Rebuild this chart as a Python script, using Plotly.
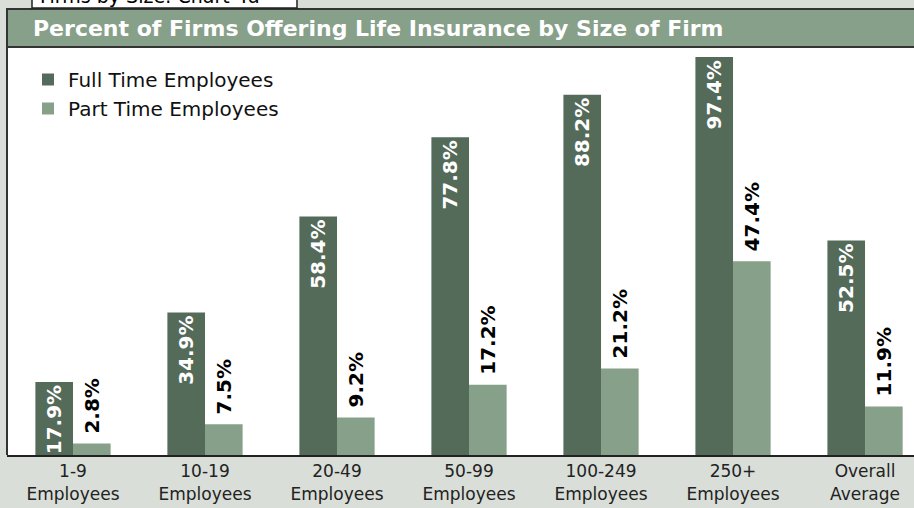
import plotly.graph_objects as go

categories = ["1-9<br>Employees", "10-19<br>Employees", "20-49<br>Employees",
              "50-99<br>Employees", "100-249<br>Employees", "250+<br>Employees",
              "Overall<br>Average"]
full_time = [17.9, 34.9, 58.4, 77.8, 88.2, 97.4, 52.5]
part_time = [2.8, 7.5, 9.2, 17.2, 21.2, 47.4, 11.9]

DARK = "#556B5A"
LIGHT = "#87A08A"
BG = "#D9DED8"
FONT = "DejaVu Sans"

fig = go.Figure()
fig.add_trace(go.Bar(
    x=categories, y=full_time, name="Full Time Employees",
    marker=dict(color=DARK, line=dict(width=0)),
    text=[f"{v:.1f}%" for v in full_time], textposition="inside",
    insidetextanchor="end", textangle=-90, constraintext="none",
    textfont=dict(family=FONT, size=20, color="white", weight="bold"),
))
fig.add_trace(go.Bar(
    x=categories, y=part_time, name="Part Time Employees",
    marker=dict(color=LIGHT, line=dict(width=0)),
    text=[f"\u00a0{v:.1f}%" for v in part_time], textposition="outside",
    textangle=-90, constraintext="none", cliponaxis=False,
    textfont=dict(family=FONT, size=20, color="black", weight="bold"),
))

H = 407.0  # plot height px
def py(pix):
    return (455 - pix) / H
def px(pix):
    return (pix - 7) / 907.0

shapes = [
    # header band
    dict(type="rect", xref="paper", yref="paper", x0=0, x1=1.01, y0=py(47), y1=py(9),
         fillcolor=LIGHT, line=dict(color="#333333", width=2), layer="above"),
    # left border
    dict(type="line", xref="paper", yref="paper", x0=0, x1=0, y0=0, y1=py(9),
         line=dict(color="#333333", width=2)),
    # top label box
    dict(type="rect", xref="paper", yref="paper", x0=px(32), x1=px(297), y0=py(8), y1=py(-30),
         fillcolor="white", line=dict(color="#222222", width=1.5)),
]

annotations = [
    dict(text="Percent of Firms Offering Life Insurance by Size of Firm",
         xref="paper", yref="paper", x=px(31), y=py(29), xanchor="left", yanchor="middle",
         showarrow=False, font=dict(family=FONT, size=22, color="white", weight="bold")),
    dict(text="Firms by Size: Chart 4a",
         xref="paper", yref="paper", x=px(38), y=py(-4), xanchor="left", yanchor="middle",
         showarrow=False, font=dict(family=FONT, size=19, color="black")),
]

fig.update_layout(
    width=914, height=508,
    margin=dict(l=7, r=0, t=48, b=53),
    paper_bgcolor=BG, plot_bgcolor="white",
    barmode="group", bargap=0.43, bargroupgap=0,
    showlegend=True,
    legend=dict(x=px(28), y=py(60), xanchor="left", yanchor="top",
                bgcolor="rgba(0,0,0,0)", font=dict(family=FONT, size=20, color="#111111"),
                traceorder="normal"),
    xaxis=dict(range=[-0.5, 6.371], showgrid=False, zeroline=False, showline=True,
               linecolor="#222222", linewidth=2, ticks="",
               tickfont=dict(family=FONT, size=17, color="#222222")),
    yaxis=dict(range=[0, 99.63], showgrid=False, zeroline=False, showticklabels=False,
               showline=False, ticks=""),
    shapes=shapes, annotations=annotations,
    font=dict(family=FONT),
)

fig.write_html("out.html", config={"displayModeBar": False},
               post_script="document.body.style.margin='0';")
